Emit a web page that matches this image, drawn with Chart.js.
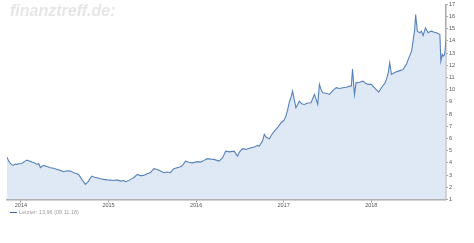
<!doctype html>
<html lang="de">
<head>
<meta charset="utf-8">
<title>Kursverlauf</title>
<script src="https://cdn.jsdelivr.net/npm/chart.js"></script>
<style>
    body { margin: 0; background: #fff; }
    #wrap { position: relative; width: 474px; height: 243px; }
    #watermark {
        position: absolute; left: 10px; top: 2px;
        font: italic bold 16px "Liberation Sans", Arial, sans-serif;
        color: #e6e6e6;
    }
    #legend {
        position: absolute; left: 10px; top: 209px;
        font: 5.5px "Liberation Sans", Arial, sans-serif;
        color: #a0a0a0;
        line-height: 7px;
    }
    #legend span.mark {
        display: inline-block; width: 7px; height: 1.5px;
        background: #3d6aa8; vertical-align: middle; margin-right: 2px;
    }
</style>
</head>
<body>
<div id="wrap">
    <canvas id="chart" width="474" height="243"></canvas>
    <div id="watermark">finanztreff.de:</div>
    <div id="legend"><span class="mark"></span>Letzter: 13,96 (08.11.18)</div>
</div>
<script>
    const dates = [
        "2013-11-04", "2013-11-10", "2013-11-16", "2013-11-24", "2013-11-30", "2013-12-08", "2013-12-15", "2013-12-24",
        "2014-01-05", "2014-01-15", "2014-01-26", "2014-02-05", "2014-02-16", "2014-02-25", "2014-03-09", "2014-03-16",
        "2014-03-23", "2014-03-30", "2014-04-06", "2014-04-20", "2014-05-04", "2014-05-18", "2014-06-01", "2014-06-14",
        "2014-06-28", "2014-07-12", "2014-07-26", "2014-08-09", "2014-08-20", "2014-08-29", "2014-09-05", "2014-09-12",
        "2014-09-19", "2014-09-26", "2014-10-03", "2014-10-10", "2014-10-17", "2014-10-24", "2014-11-03", "2014-11-14",
        "2014-11-28", "2014-12-12", "2014-12-26", "2015-01-09", "2015-01-23", "2015-02-06", "2015-02-20", "2015-03-05",
        "2015-03-13", "2015-03-24", "2015-04-03", "2015-04-17", "2015-05-01", "2015-05-14", "2015-05-28", "2015-06-11",
        "2015-06-25", "2015-07-09", "2015-07-23", "2015-08-06", "2015-08-19", "2015-09-02", "2015-09-16", "2015-09-30",
        "2015-10-14", "2015-10-28", "2015-11-08", "2015-11-18", "2015-12-02", "2015-12-16", "2016-01-06", "2016-01-20",
        "2016-02-03", "2016-02-17", "2016-03-02", "2016-03-16", "2016-04-06", "2016-04-20", "2016-05-04", "2016-05-20",
        "2016-06-08", "2016-06-22", "2016-07-01", "2016-07-13", "2016-07-27", "2016-08-17", "2016-09-01", "2016-09-14",
        "2016-09-21", "2016-10-05", "2016-10-12", "2016-10-20", "2016-11-02", "2016-11-12", "2016-11-23", "2016-12-07",
        "2016-12-21", "2017-01-03", "2017-01-10", "2017-01-17", "2017-01-24", "2017-02-01", "2017-02-07", "2017-02-14",
        "2017-02-21", "2017-03-01", "2017-03-07", "2017-03-17", "2017-03-28", "2017-04-11", "2017-04-25", "2017-05-09",
        "2017-05-23", "2017-05-30", "2017-06-06", "2017-06-13", "2017-06-27", "2017-07-10", "2017-07-24", "2017-08-08",
        "2017-08-22", "2017-09-05", "2017-09-19", "2017-10-03", "2017-10-10", "2017-10-15", "2017-10-23", "2017-10-30",
        "2017-11-07", "2017-11-28", "2017-12-10", "2017-12-18", "2018-01-01", "2018-01-12", "2018-01-22", "2018-02-01",
        "2018-02-12", "2018-02-26", "2018-03-05", "2018-03-12", "2018-03-19", "2018-03-26", "2018-04-09", "2018-04-23",
        "2018-05-07", "2018-05-14", "2018-05-28", "2018-06-04", "2018-06-18", "2018-06-25", "2018-07-01", "2018-07-05",
        "2018-07-12", "2018-07-22", "2018-07-29", "2018-08-05", "2018-08-15", "2018-08-26", "2018-09-02", "2018-09-09",
        "2018-09-20", "2018-09-30", "2018-10-14", "2018-10-18", "2018-10-24", "2018-10-28", "2018-11-03", "2018-11-08"
    ];
    const prices = [
        4.45, 4.2, 4.0, 3.85, 3.79, 3.9, 3.87, 3.92,
        3.95, 4.1, 4.22, 4.15, 4.06, 4.0, 3.87, 3.95,
        3.6, 3.72, 3.79, 3.7, 3.6, 3.55, 3.46, 3.38,
        3.27, 3.35, 3.32, 3.19, 3.12, 3.05, 2.85, 2.64,
        2.45, 2.23, 2.35, 2.5, 2.75, 2.91, 2.82, 2.78,
        2.7, 2.64, 2.6, 2.58, 2.55, 2.6, 2.5, 2.55,
        2.45, 2.52, 2.64, 2.8, 3.05, 2.95, 2.97, 3.1,
        3.2, 3.52, 3.45, 3.32, 3.19, 3.25, 3.19, 3.52,
        3.6, 3.68, 3.85, 4.14, 4.05, 4.0, 4.1, 4.06,
        4.2, 4.34, 4.3, 4.28, 4.14, 4.4, 4.96, 4.9,
        4.96, 4.55, 4.9, 5.16, 5.1, 5.24, 5.3, 5.43,
        5.37, 5.8, 6.33, 6.1, 5.97, 6.3, 6.6, 6.9,
        7.29, 7.5, 7.83, 8.3, 8.93, 9.4, 9.88, 9.2,
        8.52, 8.8, 9.06, 8.85, 8.79, 8.9, 8.93, 9.61,
        8.79, 10.43, 10.0, 9.75, 9.7, 9.61, 9.9, 10.16,
        10.1, 10.16, 10.2, 10.29, 10.3, 11.7, 9.6, 10.6,
        10.57, 10.7, 10.5, 10.43, 10.43, 10.2, 10.0, 9.8,
        10.16, 10.5, 10.84, 11.3, 12.2, 11.25, 11.4, 11.52,
        11.6, 11.66, 12.1, 12.48, 13.16, 14.1, 14.9, 16.16,
        14.8, 14.66, 14.8, 14.44, 15.07, 14.66, 14.75, 14.8,
        14.7, 14.66, 14.52, 12.34, 12.9, 12.75, 12.89, 13.96
    ];
    const yearTicks = [2014, 2015, 2016, 2017, 2018];

    // datum -> jahr als kommazahl (linear achse, kein date adapter noetig)
    function toYear(s) {
        const d = new Date(s + "T00:00:00Z");
        const y = d.getUTCFullYear();
        const start = Date.UTC(y, 0, 1);
        const end = Date.UTC(y + 1, 0, 1);
        return y + (d.getTime() - start) / (end - start);
    }

    const points = [];
    for (let i = 0; i < dates.length; i++) {
        points.push({ x: toYear(dates[i]), y: prices[i] });
    }

    new Chart(document.getElementById("chart"), {
        type: "line",
        data: {
            datasets: [{
                label: "Letzter",
                data: points,
                borderColor: "#5582bb",
                borderWidth: 1.1,
                backgroundColor: "#dfe9f5",
                fill: "start",
                pointRadius: 0,
                tension: 0
            }]
        },
        options: {
            responsive: false,
            animation: false,
            layout: { padding: { left: 7, top: 2, right: 18, bottom: 34 } },
            plugins: {
                legend: { display: false },
                tooltip: { enabled: false }
            },
            scales: {
                x: {
                    type: "linear",
                    min: toYear(dates[0]),
                    max: toYear(dates[dates.length - 1]),
                    afterBuildTicks: (axis) => {
                        axis.ticks = yearTicks.map(v => ({ value: v }));
                    },
                    ticks: {
                        font: { size: 5.5, family: "Liberation Sans" },
                        color: "#555",
                        padding: 0,
                        maxRotation: 0,
                        callback: (v) => String(v)
                    },
                    grid: { display: true, drawOnChartArea: false, tickLength: 3, color: "#999" },
                    border: { color: "#a8a8a8", width: 1.5 }
                },
                y: {
                    position: "right",
                    min: 1,
                    max: 17,
                    ticks: {
                        stepSize: 1,
                        font: { size: 5.5, family: "Liberation Sans" },
                        color: "#555",
                        padding: 1
                    },
                    grid: { display: true, drawOnChartArea: false, tickLength: 2, color: "#999" },
                    border: { color: "#a8a8a8", width: 1.5 }
                }
            }
        }
    });
</script>
</body>
</html>
